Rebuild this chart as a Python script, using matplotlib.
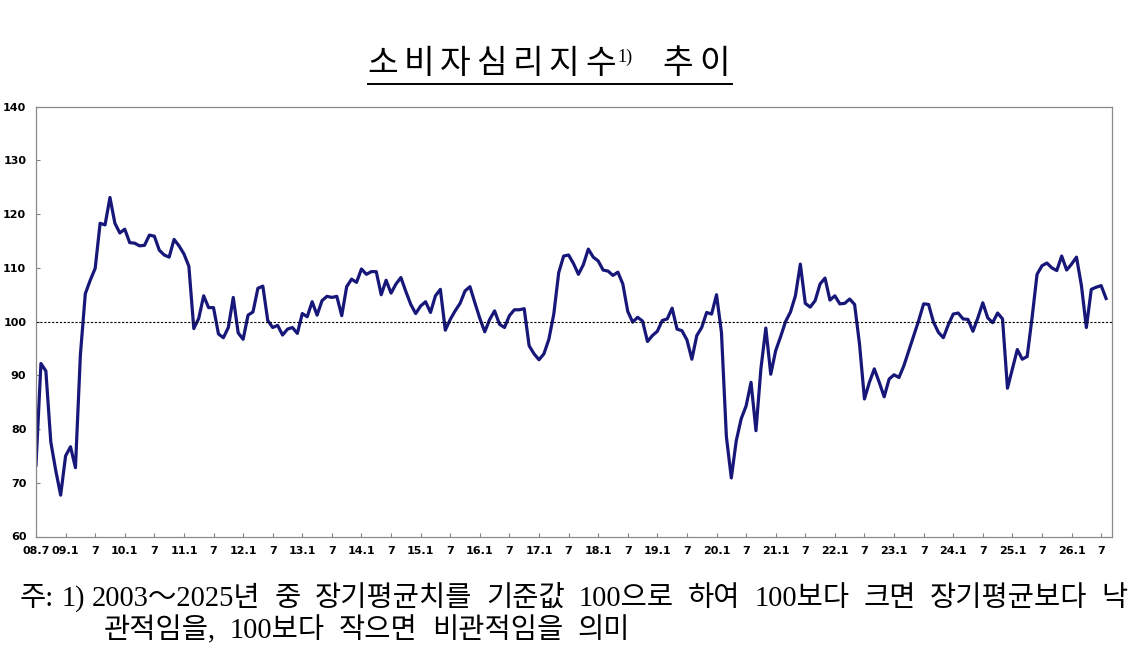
import matplotlib
matplotlib.use('Agg')
import matplotlib.pyplot as plt
from matplotlib.lines import Line2D

# 소비자심리지수, 2008.7 ~ (monthly)
csi = [
    73.3, 92.2, 90.8, 77.6, 72.3, 67.7, 75.0, 76.7, 72.8, 93.8,
    105.2, 107.7, 109.9, 118.3, 118.0, 123.1, 118.3, 116.5, 117.2, 114.7,
    114.6, 114.1, 114.2, 116.1, 115.9, 113.3, 112.4, 112.0, 115.3, 114.1,
    112.6, 110.3, 98.7, 100.6, 104.8, 102.6, 102.6, 97.7,
    97.0, 98.9, 104.5, 97.9, 96.7, 101.2, 101.8, 106.2, 106.6, 100.2,
    98.9, 99.3, 97.5, 98.6, 98.9, 97.8, 101.5, 100.9, 103.7, 101.2,
    103.9, 104.7, 104.5, 104.7, 101.1, 106.5, 107.9, 107.3, 109.8, 108.8,
    109.3, 109.3, 105.0, 107.7, 105.3, 107.0, 108.2, 105.6,
    103.2, 101.5, 102.9, 103.7, 101.7, 104.8, 106.0, 98.4, 100.4, 102.0,
    103.4, 105.7, 106.5, 103.5, 100.6, 98.1, 100.4, 102.0, 99.5, 98.9,
    101.1, 102.2, 102.2, 102.4, 95.5, 94.0, 92.9, 94.0, 96.7, 101.4,
    109.1, 112.2, 112.4, 110.8, 108.8, 110.6, 113.5, 112.0, 111.3,
    109.6, 109.4, 108.6, 109.2, 107.0, 101.9, 99.9, 100.8, 100.1, 96.3,
    97.4, 98.2, 100.2, 100.5, 102.5, 98.6, 98.3, 96.6, 93.0, 97.4,
    98.9, 101.7, 101.4, 105.0, 98.0, 78.6, 70.9, 77.8, 81.9, 84.3,
    88.7, 79.7, 91.2, 98.8, 90.2, 94.6,
    97.2, 100.0, 101.8, 104.8, 110.7, 103.4, 102.7, 103.9, 107.0, 108.1,
    104.0, 104.8, 103.3, 103.4, 104.2, 103.2, 95.8, 85.6, 88.7, 91.2,
    88.7, 86.0, 89.3, 90.1, 89.6, 91.8, 94.6, 97.4, 100.2, 103.3,
    103.2, 99.9, 98.0, 97.0, 99.4, 101.4, 101.6,
    100.5, 100.4, 98.2, 100.7, 103.5, 100.7, 99.8, 101.6, 100.5, 87.6,
    91.2, 94.8, 93.0, 93.5, 100.8, 108.8, 110.4, 110.9, 110.0, 109.5,
    112.2, 109.6, 110.7, 112.0, 106.7, 98.9, 106.0, 106.4, 106.7, 104.3,
]
start_year, start_month = 2008, 7
base_value = 100
y_ticks = [60, 70, 80, 90, 100, 110, 120, 130, 140]

title_main = '소비자심리지수'
title_sup = '1)'
title_tail = '추이'
note_prefix = ['주:', '1)']
note_line1 = '2003～2025년 중 장기평균치를 기준값 100으로 하여 100보다 크면 장기평균보다 낙'
note_line2 = '관적임을, 100보다 작으면 비관적임을 의미'


def month_label(i):
    k = start_month - 1 + i
    y, m = start_year + k // 12, k % 12 + 1
    if i == 0 or m == 1:
        return '%02d.%d' % (y % 100, m)
    return str(m)


W, H = 1132, 666
fig = plt.figure(figsize=(W / 100, H / 100), dpi=100)
r = fig.canvas.get_renderer()


def put(s, x, y, **kw):
    # x, y in pixels from the top-left corner
    return fig.text(x / W, 1 - y / H, s, **kw)


def width(t):
    return t.get_window_extent(renderer=r).width


ax = fig.add_axes([36 / W, 1 - 536.5 / H, (1112 - 36) / W, (536.5 - 106.7) / H])
ax.plot(range(len(csi)), csi, color='#17177a', lw=2.3, solid_joinstyle='round')
ax.axhline(base_value, color='black', lw=0.8, ls=(0, (2, 1.5)))
ax.set_xlim(0, 218.2)
ax.set_ylim(60, 140)
ax.set_yticks(y_ticks)
xt = list(range(0, len(csi), 6))
ax.set_xticks(xt)
ax.set_xticklabels([month_label(i) for i in xt])
ax.tick_params(axis='both', direction='in', length=3, width=0.8, color='#808080',
               labelsize=8)
ax.tick_params(axis='x', pad=7)
ax.tick_params(axis='y', pad=7)
for lab in ax.get_xticklabels() + ax.get_yticklabels():
    lab.set_fontweight('bold')
for sp in ax.spines.values():
    sp.set_color('#8a8a8a')
    sp.set_linewidth(0.9)

# title, spaced characters
tfont = ['Noto Sans CJK KR', 'DejaVu Sans']
pitch = 36.2
for k, ch in enumerate(title_main):
    put(ch, 383 + k * pitch, 73, fontsize=24, family=tfont, ha='center', va='baseline')
put(title_sup, 617, 62, fontsize=13, family=['Liberation Serif'], ha='left', va='baseline')
for k, ch in enumerate(title_tail):
    put(ch, 678 + k * 37, 73, fontsize=24, family=tfont, ha='center', va='baseline')
fig.add_artist(Line2D([368 / W, 732 / W], [1 - 84 / H, 1 - 84 / H], color='black', lw=1.4))

# footnote with wide word gaps
nfont = ['Liberation Serif', 'Noto Sans CJK KR']
gap = 14
pgap = 7
fs0 = 14
words1 = note_line1.split(' ')
words2 = note_line2.split(' ')
all1 = note_prefix + words1
tmp = [put(w, 0, 0, fontsize=fs0, family=nfont) for w in all1]
tot = sum(width(t) for t in tmp)
for t in tmp:
    t.remove()
gaps = pgap * len(note_prefix) + gap * (len(words1) - 1)
fs = fs0 * (1130 - 20 - gaps) / tot


def line(words, x0, y, g):
    x = x0
    for w in words:
        t = put(w, x, y, fontsize=fs, family=nfont, ha='left', va='baseline')
        x += width(t) + g
    return x


x1 = line(note_prefix, 20, 606, pgap)
line(words1, x1, 606, gap)
line(words2, 104, 638, gap)

fig.savefig('out.png', dpi=100)
